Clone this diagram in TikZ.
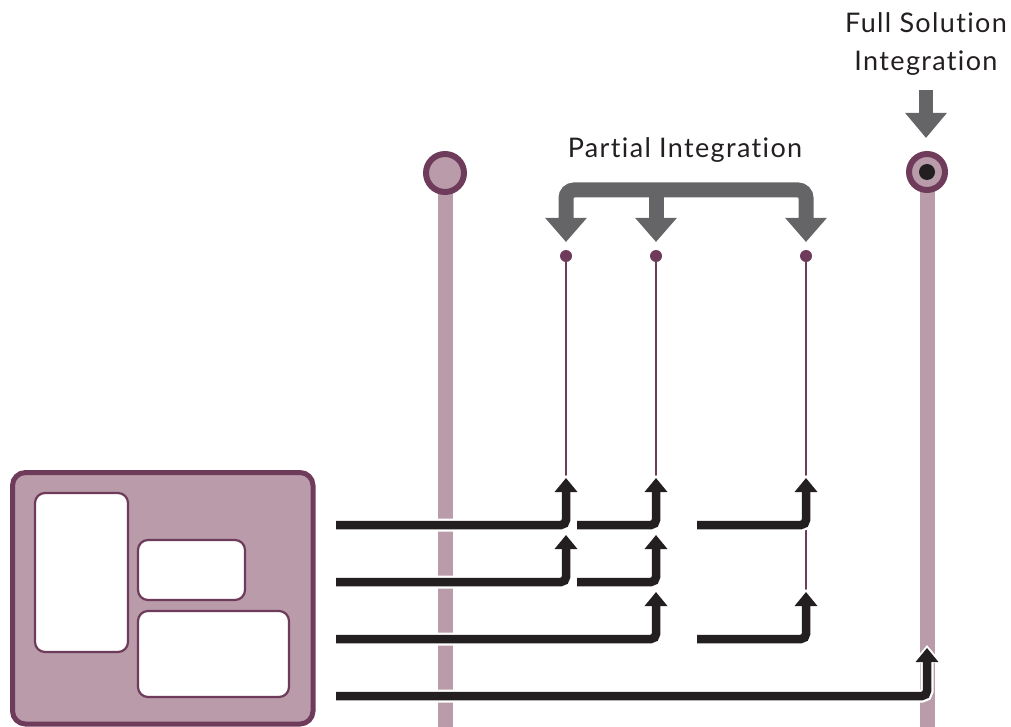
\documentclass[tikz,border=0pt]{standalone}
\usepackage{fontspec}
\setmainfont{Lato}[LetterSpace=5,Ligatures={NoCommon,NoRare}]
\usetikzlibrary{arrows.meta}
\definecolor{plum}{HTML}{6F3B5B}
\definecolor{mauve}{HTML}{B99BAA}
\definecolor{ink}{HTML}{231F20}
\definecolor{slate}{HTML}{656567}

% one black connector, laid over a white casing so it cuts through the poles
\newcommand\cabled[1]{\draw[casing] #1; \draw[wire] #1;}

\begin{document}
\begin{tikzpicture}[x=1pt,y=-1pt,
  lbl/.style={text=ink,font=\fontsize{27}{30}\selectfont,inner sep=0pt},
  pole/.style={mauve,line width=15pt},
  hub/.style={circle,draw=plum,fill=mauve,line width=6pt,inner sep=0pt},
  dot/.style={circle,fill=plum,inner sep=0pt,minimum size=12pt},
  thin/.style={plum,line width=2pt},
  bracket/.style={slate,line width=15pt,rounded corners=8pt},
  bigtip/.tip={Triangle[width=40pt,length=24pt]},
  wire/.style={ink,line width=8.5pt,rounded corners=5pt,-{Triangle[width=22pt,length=14pt]}},
  casing/.style={white,line width=13pt,rounded corners=5pt,-{Triangle[width=29pt,length=18pt]},shorten >=-3pt},
  panel/.style={draw=plum,fill=mauve,line width=5pt,rounded corners=13pt},
  pane/.style={draw=plum,fill=white,line width=2.2pt,rounded corners=10pt}]
\useasboundingbox (0,0) rectangle (1011,727);

% reference points
\coordinate (bottom) at (0,727);
\coordinate (barY) at (0,190);
\coordinate (tipL) at (566,242);
\coordinate (tipM) at (656,242);
\coordinate (tipR) at (806,242);
\coordinate (fsTop) at (926,90);
\coordinate (fsTip) at (926,138);

\coordinate (r1a) at (336,525); \coordinate (r1b) at (577,525); \coordinate (r1c) at (697,525);
\coordinate (r2a) at (336,582); \coordinate (r2b) at (577,582);
\coordinate (r3a) at (336,639); \coordinate (r3c) at (697,639);
\coordinate (r4a) at (336,696);
\coordinate (t11) at (566,478); \coordinate (t12) at (656,478); \coordinate (t13) at (806,478);
\coordinate (t21) at (566,535); \coordinate (t22) at (656,535);
\coordinate (t32) at (656,592); \coordinate (t33) at (806,592);
\coordinate (t44) at (927,648);

% labels
\node[lbl,anchor=base] (fs1) at (926,33) {Full Solution};
\node[lbl,anchor=base] (fs2) at (926,71) {Integration};
\node[lbl,anchor=base] (pi) at (685,158) {Partial Integration};

% main poles with their hubs
\coordinate (hubAc) at (445,173);
\coordinate (hubBc) at (927,172);
\draw[pole] (hubAc) -- (hubAc |- bottom);
\draw[pole] (hubBc) -- (hubBc |- bottom);
\node[hub,minimum size=38pt] (hubA) at (hubAc) {};
\node[hub,minimum size=36pt] (hubB) at (hubBc) {};
\node[circle,fill=ink,inner sep=0pt,minimum size=16pt] (core) at (hubBc) {};

% grey integration arrows
\draw[slate,line width=14pt,-{Triangle[width=40pt,length=25pt]}] (fsTop) -- (fsTip);
\draw[bracket,{bigtip}-{bigtip}] (tipL) |- (tipR |- barY) -- (tipR);
\draw[bracket,-{bigtip}] (tipM |- barY) -- (tipM);

% partial integration branches
\node[dot] (d1) at (566,256) {};
\node[dot] (d2) at (656,256) {};
\node[dot] (d3) at (806,256) {};
\draw[thin] (d1) -- (t11);
\draw[thin] (d2) -- (t12);
\draw[thin] (d3) -- (t33);

% component block
\draw[panel] (12.5,472.5) rectangle (313,724);
\draw[pane] (35,493) rectangle (128,652);
\draw[pane] (138,540) rectangle (245,600);
\draw[pane] (138,611) rectangle (289,697);

% connectors
\cabled{(r1a) -| (t11)}
\cabled{(r1b) -| (t12)}
\cabled{(r1c) -| (t13)}
\cabled{(r2a) -| (t21)}
\cabled{(r2b) -| (t22)}
\cabled{(r3a) -| (t32)}
\cabled{(r3c) -| (t33)}
\cabled{(r4a) -| (t44)}
\end{tikzpicture}
\end{document}
